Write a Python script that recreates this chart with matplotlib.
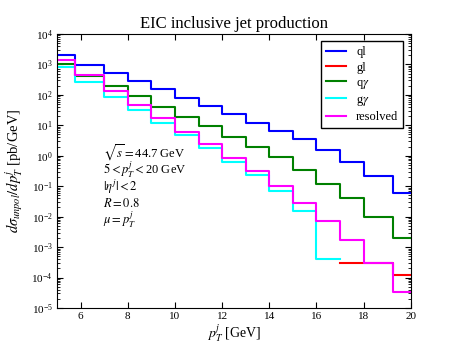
import numpy as np
import matplotlib
matplotlib.use('Agg')
import matplotlib.pyplot as plt
from matplotlib.ticker import LogLocator, NullFormatter

plt.rcParams['font.family'] = 'serif'
plt.rcParams['font.serif'] = ['Liberation Serif', 'DejaVu Serif']
plt.rcParams['mathtext.fontset'] = 'stix'
plt.rcParams['xtick.direction'] = 'in'
plt.rcParams['ytick.direction'] = 'in'
plt.rcParams['xtick.top'] = True
plt.rcParams['ytick.right'] = True

nan = np.nan
# step points (drawn with where='mid')
pt = [5, 6.5, 7.5, 8.5, 9.5, 10.5, 11.5, 12.5, 13.5, 14.5, 15.5, 16.5, 17.5, 18.5, 20]
ql = [2040, 955, 510, 277, 151, 80, 43, 23, 12, 6.4, 3.6, 1.6, 0.63, 0.22, 0.06]
gl = [nan, nan, nan, nan, nan, nan, nan, nan, nan, nan, nan, nan, 3.0e-4, 3.0e-4, 1.26e-4]
qgam = [1025, 430, 190, 89, 41, 19, 9.4, 4.2, 1.96, 0.91, 0.35, 0.12, 0.04, 0.01, 0.002]
ggam = [830, 263, 85, 31.6, 12, 4.8, 1.74, 0.64, 0.24, 0.07, 0.015, 4.2e-4, nan, nan, nan]
resolved = [1400, 440, 136, 47, 17, 5.9, 2.35, 0.85, 0.31, 0.1, 0.028, 0.0074, 0.00166, 0.0003, 3.4e-5]

fig = plt.figure(figsize=(4.57, 3.43), dpi=100)
ax = fig.add_axes([0.1247, 0.102, 0.7743, 0.799])
ax.step(pt, ql, where='mid', color='#0000ff', lw=1.5, label='ql')
ax.step(pt, gl, where='mid', color='#ff0000', lw=1.5, label='gl')
ax.step(pt, qgam, where='mid', color='#008000', lw=1.5, label=r'q$\gamma$')
ax.step(pt, ggam, where='mid', color='#00ffff', lw=1.5, label=r'g$\gamma$')
ax.step(pt, resolved, where='mid', color='#ff00ff', lw=1.5, label='resolved')

ax.set_yscale('log')
ax.set_xlim(5, 20)
ax.set_ylim(1e-5, 1e4)
ax.yaxis.set_major_locator(LogLocator(base=10, numticks=20))
ax.yaxis.set_minor_locator(LogLocator(base=10, subs=np.arange(2, 10), numticks=20))
ax.yaxis.set_minor_formatter(NullFormatter())
ax.set_xticks([6, 8, 10, 12, 14, 16, 18, 20])
ax.tick_params(labelsize=8, pad=3)
ax.tick_params(which='major', length=4)
ax.tick_params(which='minor', length=2)
ax.set_title('EIC inclusive jet production', fontsize=12, pad=4)
ax.set_xlabel(r'$p_T^j$ [GeV]', fontsize=10, labelpad=1)
ax.set_ylabel(r'$d\sigma_{unpol}/dp_T^j$ [pb/GeV]', fontsize=10.5, labelpad=5)

txt = [r'$\sqrt{s}=$44.7 GeV', r'$5<p_T^j<$20 GeV', r'$|\eta^j|<2$', r'$R=0.8$', r'$\mu=p_T^j$']
for i, t in enumerate(txt):
    ax.text(0.13, 0.565 - i * 0.061, t, transform=ax.transAxes, fontsize=9, va='center')

leg = ax.legend(loc='upper right', fontsize=9, fancybox=False, framealpha=1,
                edgecolor='black', handlelength=1.6, handletextpad=0.8, borderpad=0.4,
                labelspacing=0.25, borderaxespad=0.6)
leg.get_frame().set_linewidth(1.0)

fig.savefig('out.png', dpi=100)
